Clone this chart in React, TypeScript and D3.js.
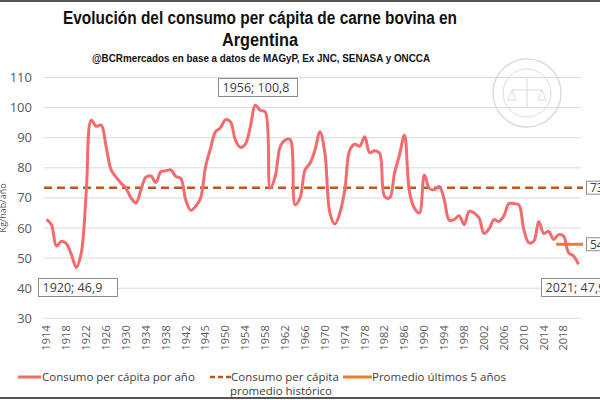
import React from "react";
import * as d3 from "d3";

const years: number[] = d3.range(1914, 2022);
const consumo: number[] = [
  62.8, 61.1, 54.0, 55.6, 54.8, 51.2, 46.9, 51.8, 72.0, 95.8,
  93.8, 94.2, 87.0, 79.3, 76.9, 74.9, 73.2, 70.0, 68.3, 72.7,
  76.9, 77.3, 75.1, 78.7, 79.0, 79.3, 77.1, 76.5, 69.4, 65.9,
  67.2, 70.0, 80.4, 86.5, 92.0, 93.3, 96.0, 95.3, 89.2, 86.8,
  87.9, 93.6, 100.8, 99.1, 98.6, 73.2, 77.1, 87.0, 89.2, 89.4,
  67.7, 70.0, 79.3, 81.5, 85.9, 92.0, 84.8, 65.0, 61.3, 65.0,
  72.7, 85.9, 87.8, 87.2, 90.3, 85.0, 85.7, 84.8, 70.5, 70.0,
  78.2, 84.3, 90.9, 72.0, 66.6, 65.0, 77.6, 73.2, 72.7, 73.8,
  69.4, 62.6, 62.8, 64.1, 61.1, 65.5, 65.0, 63.3, 58.2, 59.7,
  62.8, 62.2, 64.1, 68.1, 68.1, 67.7, 59.5, 55.1, 55.6, 62.2,
  58.2, 58.9, 56.2, 57.8, 57.3, 51.8, 50.7, 47.9,
];
const promedioHistorico = 73.4;
const promedioHistoricoLabel = "73,4";
const promedio5 = 54.6;
const promedio5Label = "54,6";
const promedio5Years: number[] = [2017, 2018, 2019, 2020, 2021];
const yTicks: number[] = [30, 40, 50, 60, 70, 80, 90, 100, 110];
const tickLabels: string[] = [
  "1914", "1918", "1922", "1926", "1930", "1934", "1938", "1942", "1945",
  "1950", "1954", "1958", "1962", "1966", "1970", "1974", "1978", "1982",
  "1986", "1990", "1994", "1998", "2002", "2006", "2010", "2014", "2018",
];
const annotations = [
  { year: 1920, value: 46.9, text: "1920; 46,9" },
  { year: 1956, value: 100.8, text: "1956; 100,8" },
  { year: 2021, value: 47.9, text: "2021; 47,9" },
];

const W = 600;
const H = 400;
const left = 44;
const right = 581;
const top = 77.5;
const bottom = 318.3;

export default function App() {
  const x = d3.scaleBand<number>().domain(years).range([left, right]).padding(0);
  const cx = (yr: number) => (x(yr) as number) + x.bandwidth() / 2;
  const y = d3.scaleLinear().domain([30, 110]).range([bottom, top]);

  const line = d3
    .line<number>()
    .x((_, i) => cx(years[i]))
    .y((d) => y(d))
    .curve(d3.curveCatmullRom.alpha(0.5));
  const path = line(consumo) || "";

  const red = "#F36B6D";
  const dashColor = "#C0571A";
  const orange = "#EE7A2F";
  const textGray = "#595959";
  const font = "'Open Sans', 'Liberation Sans', Arial, sans-serif";
  const titleFont = "'Liberation Sans', Arial, sans-serif";

  const boxStyle = { fill: "white", stroke: "#8c8c8c", strokeWidth: 1 };

  const annPos: Record<number, { bx: number; by: number }> = {
    1920: { bx: 38.5, by: 278.5 },
    1956: { bx: 218.5, by: 78.5 },
    2021: { bx: 541.5, by: 278.5 },
  };

  const tickX = (i: number) => cx(years[i * 4]);

  return (
    <svg width={W} height={H} style={{ position: "absolute", left: 0, top: 0, background: "white" }}>
      <rect x={0} y={0} width={W} height={H} fill="white" />
      <line x1={0} x2={W} y1={1} y2={1} stroke="#555" strokeWidth={2} />
      <line x1={0} x2={W} y1={398} y2={398} stroke="#555" strokeWidth={2} />

      {/* logo watermark */}
      <g opacity={0.3} stroke="#8a8a9a" fill="none">
        <circle cx={527} cy={93} r={34} strokeWidth={1.5} />
        <circle cx={527} cy={93} r={24} strokeWidth={1} />
        <line x1={512} x2={542} y1={90} y2={90} strokeWidth={1} />
        <line x1={527} x2={527} y1={78} y2={108} strokeWidth={1} />
        <path d="M512 90 L508 100 L516 100 Z M542 90 L538 100 L546 100 Z" strokeWidth={1} />
      </g>

      {/* title */}
      <text x={63} y={24} textLength={394} lengthAdjust="spacingAndGlyphs" fontFamily={titleFont} fontWeight="bold" fontSize={18} fill="#111">
        Evolución del consumo per cápita de carne bovina en
      </text>
      <text x={260} y={46} textAnchor="middle" textLength={76} lengthAdjust="spacingAndGlyphs" fontFamily={titleFont} fontWeight="bold" fontSize={18} fill="#111">
        Argentina
      </text>
      <text x={92} y={62} textLength={338} lengthAdjust="spacingAndGlyphs" fontFamily={titleFont} fontWeight="bold" fontSize={11.5} fill="#111">
        @BCRmercados  en base a datos de MAGyP,  Ex JNC, SENASA y ONCCA
      </text>

      {/* gridlines */}
      {yTicks.map((t) => (
        <line key={t} x1={left} x2={right} y1={y(t)} y2={y(t)} stroke="#d9d9d9" strokeWidth={1} />
      ))}
      {yTicks.map((t) => (
        <text key={"l" + t} x={32} y={y(t)} dy="0.35em" textAnchor="end" fontFamily={font} fontSize={13} fill={textGray}>
          {t}
        </text>
      ))}
      <text transform={`translate(6,${(top + bottom) / 2 + 10}) rotate(-90)`} textAnchor="middle" fontFamily={font} fontSize={9} fill={textGray}>
        Kg/hab/año
      </text>

      {/* x tick labels */}
      {tickLabels.map((lab, i) => (
        <text
          key={lab + i}
          transform={`translate(${tickX(i)},${bottom + 7}) rotate(-90)`}
          textAnchor="end"
          dy="0.35em"
          fontFamily={font}
          fontSize={11}
          fill={textGray}
        >
          {lab}
        </text>
      ))}

      {/* historical average */}
      <line x1={left} x2={right + 2} y1={y(promedioHistorico)} y2={y(promedioHistorico)} stroke={dashColor} strokeWidth={2.5} strokeDasharray="8,5" />
      {/* data line */}
      <path d={path} fill="none" stroke={red} strokeWidth={3} strokeLinejoin="round" />
      {/* 5 year average */}
      <line
        x1={x(promedio5Years[0]) as number}
        x2={(x(promedio5Years[promedio5Years.length - 1]) as number) + x.bandwidth() + 2}
        y1={y(promedio5)}
        y2={y(promedio5)}
        stroke={orange}
        strokeWidth={3}
      />

      {/* right labels */}
      <rect x={586.5} y={y(promedioHistorico) - 6.5} width={40} height={13} {...boxStyle} />
      <text x={590} y={y(promedioHistorico)} dy="0.36em" fontFamily={font} fontSize={12} fill="#404040">
        {promedioHistoricoLabel}
      </text>
      <rect x={586.5} y={y(promedio5) - 6.5} width={40} height={13} {...boxStyle} />
      <text x={590} y={y(promedio5)} dy="0.36em" fontFamily={font} fontSize={12} fill="#404040">
        {promedio5Label}
      </text>

      {/* annotations */}
      {annotations.map((a) => {
        const p = annPos[a.year];
        return (
          <g key={a.year}>
            <rect x={p.bx} y={p.by} width={79} height={18} {...boxStyle} />
            <text x={p.bx + 4} y={p.by + 9} dy="0.36em" fontFamily={font} fontSize={12.5} fill="#404040">
              {a.text}
            </text>
          </g>
        );
      })}

      {/* legend */}
      <g fontFamily={font} fontSize={11.5} fill="#404040">
        <line x1={18} x2={41} y1={377} y2={377} stroke={red} strokeWidth={3} />
        <text x={42} y={377} dy="0.35em">Consumo per cápita por año</text>
        <line x1={210} x2={231} y1={377} y2={377} stroke={dashColor} strokeWidth={2.5} strokeDasharray="5,3" />
        <text x={231} y={377} dy="0.35em">Consumo per cápita</text>
        <text x={281} y={391} dy="0.35em" textAnchor="middle">promedio histórico</text>
        <line x1={343} x2={372} y1={377} y2={377} stroke={orange} strokeWidth={3} />
        <text x={372} y={377} dy="0.35em">Promedio últimos 5 años</text>
      </g>
    </svg>
  );
}
